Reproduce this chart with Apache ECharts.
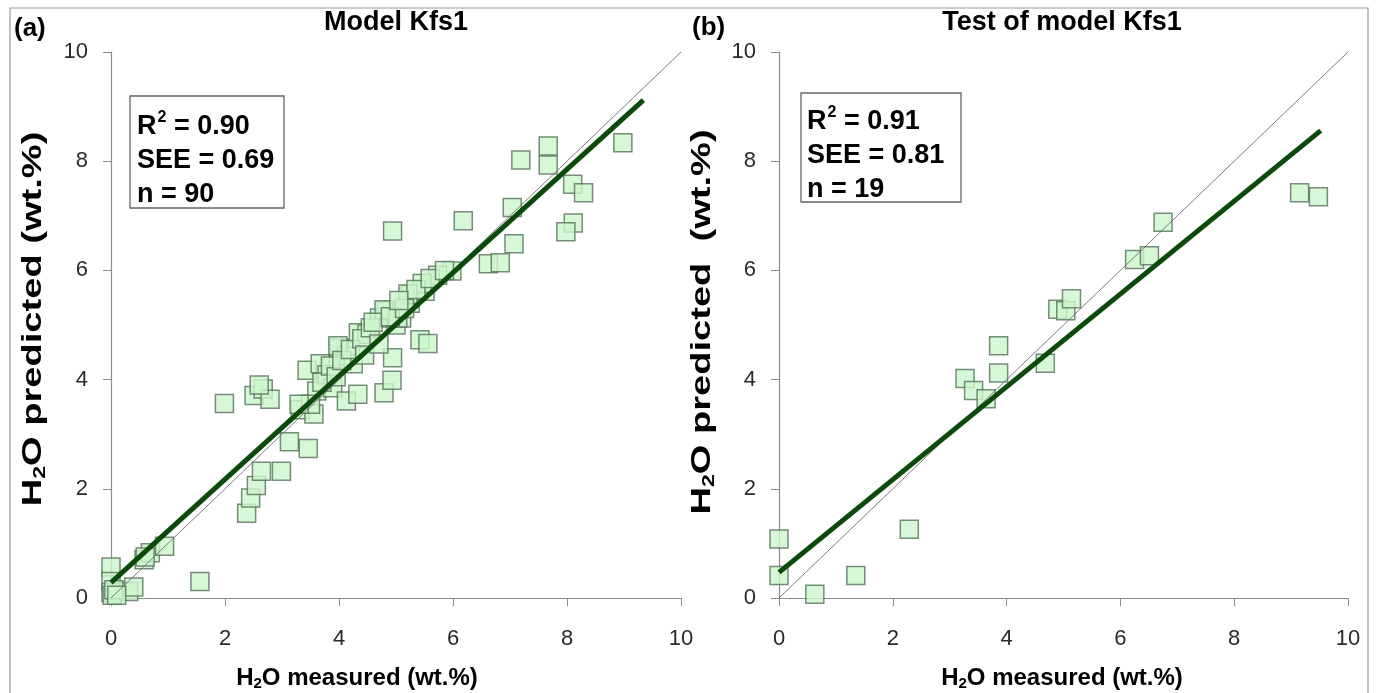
<!DOCTYPE html>
<html><head><meta charset="utf-8">
<script src="https://cdn.jsdelivr.net/npm/echarts@6/dist/echarts.min.js"></script>
<style>html,body{margin:0;padding:0;background:#fff}#c{width:1376px;height:693px}</style>
</head><body><div id="c"></div>
<script>
// ---- data ----
const xTicks = [0, 2, 4, 6, 8, 10];
const yTicks = [0, 2, 4, 6, 8, 10];
const panelLetters = ['(a)', '(b)'];
const panelTitles = ['Model Kfs1', 'Test of model Kfs1'];
const statsA = ['0.90', '0.69', '90'];
const statsB = ['0.91', '0.81', '19'];
// model Kfs1: [measured, predicted]
const modelPts = [
  [0,0.57],[0,0.30],[0,0.10],[0.02,0.05],[0.31,0.12],[0.40,0.20],[0.58,0.70],[0.69,0.83],[0.94,0.95],[1.56,0.30],
  [2.38,1.55],[2.45,1.83],[2.55,2.06],[2.64,2.32],[2.99,2.32],[3.13,2.86],[3.46,2.74],[1.99,3.56],[2.51,3.71],[2.67,3.83],
  [2.79,3.64],[3.32,3.45],[3.56,3.37],[3.44,4.17],[3.67,4.29],[3.61,3.79],[3.79,4.09],[3.89,3.85],[4.00,4.58],[4.13,4.43],
  [4.25,4.29],[4.13,3.61],[4.33,3.73],[4.34,4.86],[4.49,4.83],[4.71,5.13],[4.83,5.26],[4.79,3.76],[4.93,3.99],[4.94,4.40],
  [5.00,5.00],[5.10,5.13],[5.25,5.40],[5.42,4.73],[5.56,4.66],[5.25,5.55],[5.51,5.62],[4.94,6.72],[6.18,6.91],[7.04,7.15],
  [7.07,6.49],[6.62,6.12],[6.83,6.14],[5.98,5.99],[5.73,5.91],[5.46,5.76],[5.21,5.57],[4.79,5.28],[5.03,5.13],[3.98,4.62],
  [7.19,8.02],[7.67,8.28],[7.67,7.93],[8.98,8.34],[8.10,7.58],[8.29,7.42],[8.11,6.87],[7.98,6.71],
  [0.05,0.15],[0.10,0.05],[0.60,0.75],[2.60,3.90],[3.50,3.55],[3.70,3.95],[3.85,4.25],[3.95,4.05],[4.05,4.35],[4.20,4.55],
  [4.40,4.75],[4.55,4.95],[4.60,5.05],[4.90,5.15],[5.15,5.30],[5.35,5.65],[5.60,5.85],[5.85,6.00],[4.45,4.45],[5.05,5.45],
  [4.70,4.65],[3.30,3.55]
];
// test of model Kfs1
const testPts = [
  [0,1.08],[0,0.41],[0.63,0.07],[1.35,0.41],[2.29,1.26],[3.27,4.02],[3.42,3.80],[3.64,3.65],[3.86,4.62],[3.86,4.12],
  [4.68,4.30],[4.90,5.29],[5.04,5.26],[5.14,5.48],[6.25,6.20],[6.51,6.27],[6.75,6.88],[9.15,7.42],[9.48,7.35]
];
const oneToOne = [[0,0],[10,10]];
const fitA = [[0,0.28],[9.34,9.12]];
const fitB = [[0,0.47],[9.52,8.56]];

// ---- chart ----
const FONT = "'Liberation Sans', Arial, sans-serif";
const chart = echarts.init(document.getElementById('c'));
const grids = [
  {left:111, top:52, width:570, height:546},
  {left:779, top:52, width:569, height:546}
];
function xAxis(i){return {gridIndex:i,type:'value',min:0,max:10,interval:2,
  axisLine:{show:true,lineStyle:{color:'#8c8c8c',width:1.2}},
  axisTick:{show:true,inside:false,length:8,lineStyle:{color:'#8c8c8c'}},
  axisLabel:{margin:30,fontSize:22,color:'#2a2a2a',fontFamily:FONT,showMaxLabel:true},
  splitLine:{show:false}};}
function yAxis(i){return {gridIndex:i,type:'value',min:0,max:10,interval:2,
  axisLine:{show:true,lineStyle:{color:'#8c8c8c',width:1.2}},
  axisTick:{show:true,inside:false,length:8,lineStyle:{color:'#8c8c8c'}},
  axisLabel:{margin:23,fontSize:22,color:'#2a2a2a',fontFamily:FONT,showMaxLabel:true},
  splitLine:{show:false}};}
const marker = {color:'#ccf6cc',borderColor:'#56705a',borderWidth:1.5};
function scatter(i,d){return {type:'scatter',xAxisIndex:i,yAxisIndex:i,data:d,symbol:'rect',symbolSize:18,itemStyle:marker,z:2,silent:true};}
function line(i,d,c,w,z){return {type:'line',xAxisIndex:i,yAxisIndex:i,data:d,symbol:'none',lineStyle:{color:c,width:w},z:z,silent:true};}

const bold = {fontFamily:FONT,fontWeight:'bold',fill:'#000'};
function statsText(vals){
  return '{t|R}{sup|2}{t| = '+vals[0]+'}\n{t|SEE = '+vals[1]+'}\n{t|n = '+vals[2]+'}';
}
const statRich = {t:{fontFamily:FONT,fontWeight:'bold',fontSize:27,lineHeight:34,fill:'#000'},
  sup:{fontFamily:FONT,fontWeight:'bold',fontSize:16,lineHeight:34,verticalAlign:'top',padding:[0,0,0,1],fill:'#000'}};
const xRich = {t:{fontFamily:FONT,fontWeight:'bold',fontSize:24,fill:'#000'},
  sub:{fontFamily:FONT,fontWeight:'bold',fontSize:15,fill:'#000',padding:[12,0,0,0]}};
const yRich = {t:{fontFamily:FONT,fontWeight:'bold',fontSize:28,fill:'#000'},
  sub:{fontFamily:FONT,fontWeight:'bold',fontSize:17,fill:'#000',padding:[14,0,0,0]}};
function axTitle(label){return '{t|H}{sub|2}{t|O '+label+'}';}

const graphic = [
  {type:'rect',shape:{x:10,y:8,width:1358,height:700},style:{fill:'none',stroke:'#9a9a9a',lineWidth:1.2},silent:true},
  {type:'text',x:14,y:16,style:Object.assign({text:panelLetters[0],fontSize:26},bold)},
  {type:'text',x:692,y:15,style:Object.assign({text:panelLetters[1],fontSize:26},bold)},
  {type:'text',x:396,y:23,style:Object.assign({text:panelTitles[0],fontSize:27,align:'center',verticalAlign:'middle'},bold)},
  {type:'text',x:1062,y:23,style:Object.assign({text:panelTitles[1],fontSize:27,align:'center',verticalAlign:'middle'},bold)},
  {type:'rect',shape:{x:130,y:96,width:154,height:112},style:{fill:'#fff',stroke:'#666',lineWidth:1.3},z:10},
  {type:'text',x:137,y:110,z:11,style:{text:statsText(statsA),rich:statRich}},
  {type:'rect',shape:{x:801,y:93,width:160,height:109},style:{fill:'#fff',stroke:'#666',lineWidth:1.3},z:10},
  {type:'text',x:807,y:105,z:11,style:{text:statsText(statsB),rich:statRich}},
  {type:'text',x:357,y:678,style:{text:axTitle('measured (wt.%)'),rich:xRich,align:'center',verticalAlign:'middle'}},
  {type:'text',x:1062,y:678,style:{text:axTitle('measured (wt.%)'),rich:xRich,align:'center',verticalAlign:'middle'}},
  {type:'text',x:33,y:319,rotation:Math.PI/2,scaleX:1.36,style:{text:axTitle('predicted (wt.%)'),rich:yRich,align:'center',verticalAlign:'middle'}},
  {type:'text',x:702,y:322,rotation:Math.PI/2,scaleX:1.36,style:{text:axTitle('predicted  (wt.%)'),rich:yRich,align:'center',verticalAlign:'middle'}}
];

chart.setOption({
  animation:false,
  backgroundColor:'#fff',
  grid:grids,
  xAxis:[xAxis(0),xAxis(1)],
  yAxis:[yAxis(0),yAxis(1)],
  series:[
    scatter(0,modelPts), line(0,oneToOne,'#6e6e6e',0.9,3), line(0,fitA,'#0b4a0b',5,4),
    scatter(1,testPts), line(1,oneToOne,'#6e6e6e',0.9,3), line(1,fitB,'#0b4a0b',5,4)
  ],
  graphic:graphic
});
</script></body></html>
